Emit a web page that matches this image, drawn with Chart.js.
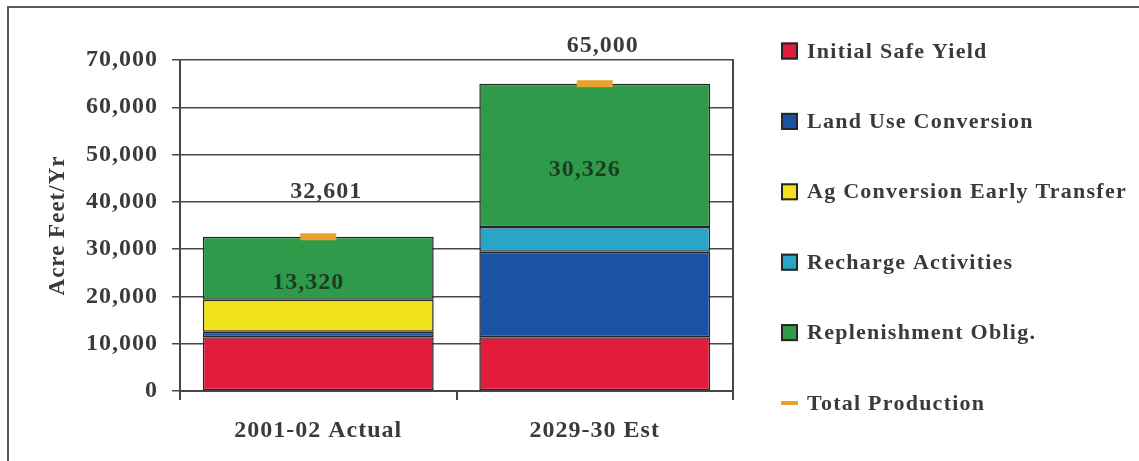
<!DOCTYPE html>
<html>
<head>
<meta charset="utf-8">
<script src="https://cdn.jsdelivr.net/npm/chart.js@4/dist/chart.umd.min.js"></script>
<style>
  html, body { margin: 0; padding: 0; background: #fff; }
  #wrap { position: relative; width: 1139px; height: 461px; overflow: hidden; background: #fff; }
  #frame { position: absolute; left: 7px; top: 6px; right: -10px; bottom: -10px;
           border-top: 2px solid #5a5a5a; border-left: 2px solid #5a5a5a; }
  canvas { position: absolute; left: 0; top: 0; }
</style>
</head>
<body>
<div id="wrap">
  <div id="frame"></div>
  <canvas id="chart" width="1139" height="461"></canvas>
</div>
<script>
// Groundwater supply components, acre-feet per year
const categories = ['2001-02 Actual', '2029-30 Est'];
const initialSafeYield = [11350, 11350];
const landUseConversion = [1200, 18100];
const agConversionEarlyTransfer = [6731, 0];
const rechargeActivities = [0, 5224];
const replenishmentOblig = [13320, 30326];
const totalProduction = [32601, 65000];

const seriesLabels = [
  'Initial Safe Yield',
  'Land Use Conversion',
  'Ag Conversion Early Transfer',
  'Recharge Activities',
  'Replenishment Oblig.',
  'Total Production'
];

const SERIF = "'Liberation Serif', 'Times New Roman', serif";
const TEXT = '#3a3a3a';
const GRID = '#474747';
const EDGE = '#262626';

const fmt = v => Number(v).toLocaleString('en-US');

// Slightly open tracking for all canvas text
const tracking = {
  id: 'tracking',
  beforeDraw(chart, args, opts) {
    chart.ctx.letterSpacing = opts.spacing;
  }
};

// Value labels: totals above each bar, replenishment figure inside the green block
const valueLabels = {
  id: 'valueLabels',
  afterDatasetsDraw(chart, args, opts) {
    const ctx = chart.ctx;
    const xs = chart.scales.x, ys = chart.scales.y;
    const greenMeta = chart.getDatasetMeta(4);
    const totalDs = chart.data.datasets[5];
    ctx.save();
    ctx.textAlign = 'center';
    ctx.textBaseline = 'middle';
    ctx.font = opts.font;
    totalDs.data.forEach((v, i) => {
      const cx = xs.getPixelForValue(i);
      ctx.fillStyle = opts.totalColor;
      ctx.fillText(fmt(v), cx + opts.totalDx, ys.getPixelForValue(v) - opts.totalRise[i]);
      const el = greenMeta.data[i];
      const gv = chart.data.datasets[4].data[i];
      ctx.fillStyle = opts.innerColor;
      ctx.fillText(fmt(gv), cx + opts.innerDx, (el.y + el.base) / 2 + opts.innerDrop);
    });
    ctx.restore();
  }
};

// Vertical key at the right of the plot
const sideKey = {
  id: 'sideKey',
  afterDraw(chart, args, opts) {
    const ctx = chart.ctx;
    ctx.save();
    ctx.font = opts.font;
    ctx.letterSpacing = opts.spacing;
    ctx.textAlign = 'left';
    ctx.textBaseline = 'middle';
    chart.data.datasets.forEach((ds, i) => {
      const cy = opts.top + i * opts.step;
      if (ds.type === 'line') {
        ctx.strokeStyle = ds.borderColor;
        ctx.lineWidth = 4;
        ctx.beginPath();
        ctx.moveTo(opts.x, cy);
        ctx.lineTo(opts.x + opts.box, cy);
        ctx.stroke();
      } else {
        ctx.fillStyle = ds.backgroundColor;
        ctx.fillRect(opts.x, cy - opts.box / 2, opts.box, opts.box);
        ctx.strokeStyle = EDGE;
        ctx.lineWidth = 2;
        ctx.strokeRect(opts.x + 1, cy - opts.box / 2 + 1, opts.box - 2, opts.box - 2);
      }
      ctx.fillStyle = TEXT;
      ctx.fillText(ds.label, opts.x + opts.box + opts.gap, cy + 1);
    });
    ctx.restore();
  }
};

const barDs = (label, data, color) => ({
  type: 'bar', label, data,
  backgroundColor: color,
  borderColor: EDGE,
  borderWidth: 1.5,
  borderSkipped: false,
  stack: 'supply',
  categoryPercentage: 1.0,
  barPercentage: 0.835
});

new Chart(document.getElementById('chart'), {
  data: {
    labels: categories,
    datasets: [
      barDs(seriesLabels[0], initialSafeYield, '#e21d3c'),
      barDs(seriesLabels[1], landUseConversion, '#1b52a6'),
      barDs(seriesLabels[2], agConversionEarlyTransfer, '#f0e31c'),
      barDs(seriesLabels[3], rechargeActivities, '#2aa5c6'),
      barDs(seriesLabels[4], replenishmentOblig, '#2e9a4a'),
      {
        type: 'line', label: seriesLabels[5], data: totalProduction,
        stack: 'total', order: -1,
        showLine: false,
        pointStyle: 'line',
        pointRadius: 18, pointHoverRadius: 18,
        borderColor: '#e9a12a', backgroundColor: '#e9a12a',
        borderWidth: 7, pointBorderWidth: 7
      }
    ]
  },
  options: {
    responsive: false,
    animation: false,
    devicePixelRatio: 1,
    layout: { padding: { left: 0, right: 406, top: 60, bottom: 0 } },
    plugins: {
      legend: { display: false },
      tooltip: { enabled: false },
      tracking: { spacing: '1px' },
      valueLabels: {
        font: `bold 24px ${SERIF}`,
        totalColor: TEXT,
        innerColor: '#1d3a24',
        totalRise: [45, 38],
        totalDx: 8,
        innerDx: -10,
        innerDrop: 14
      },
      sideKey: {
        font: `bold 22px ${SERIF}`,
        spacing: '1.25px',
        x: 781, top: 51, step: 70.4, box: 17, gap: 9
      }
    },
    scales: {
      x: {
        stacked: true,
        grid: { display: true, drawOnChartArea: false, drawTicks: true, tickLength: 9, offset: true, color: GRID, lineWidth: 2 },
        border: { display: true, color: GRID, width: 2 },
        ticks: { color: TEXT, font: { family: SERIF, size: 24, weight: 'bold' }, padding: 16, maxRotation: 0 },
        afterFit(scale) { scale.height = 70; }
      },
      y: {
        stacked: true,
        min: 0, max: 70000,
        grid: { color: GRID, lineWidth: 1.5, drawTicks: true, tickLength: 8 },
        border: { display: true, color: GRID, width: 2 },
        ticks: {
          stepSize: 10000, color: TEXT, padding: 14,
          font: { family: SERIF, size: 24, weight: 'bold' },
          callback: v => fmt(v)
        },
        title: {
          display: true, text: 'Acre Feet/Yr', color: TEXT,
          font: { family: SERIF, size: 23, weight: 'bold' },
          padding: { top: 44, bottom: 0 }
        },
        afterFit(scale) { scale.width = 180; }
      },
      yEdge: {
        position: 'right',
        min: 0, max: 70000,
        grid: { display: false },
        ticks: { display: false },
        border: { display: true, color: GRID, width: 2 },
        afterFit(scale) { scale.width = 0; }
      }
    }
  },
  plugins: [tracking, valueLabels, sideKey]
});
</script>
</body>
</html>
